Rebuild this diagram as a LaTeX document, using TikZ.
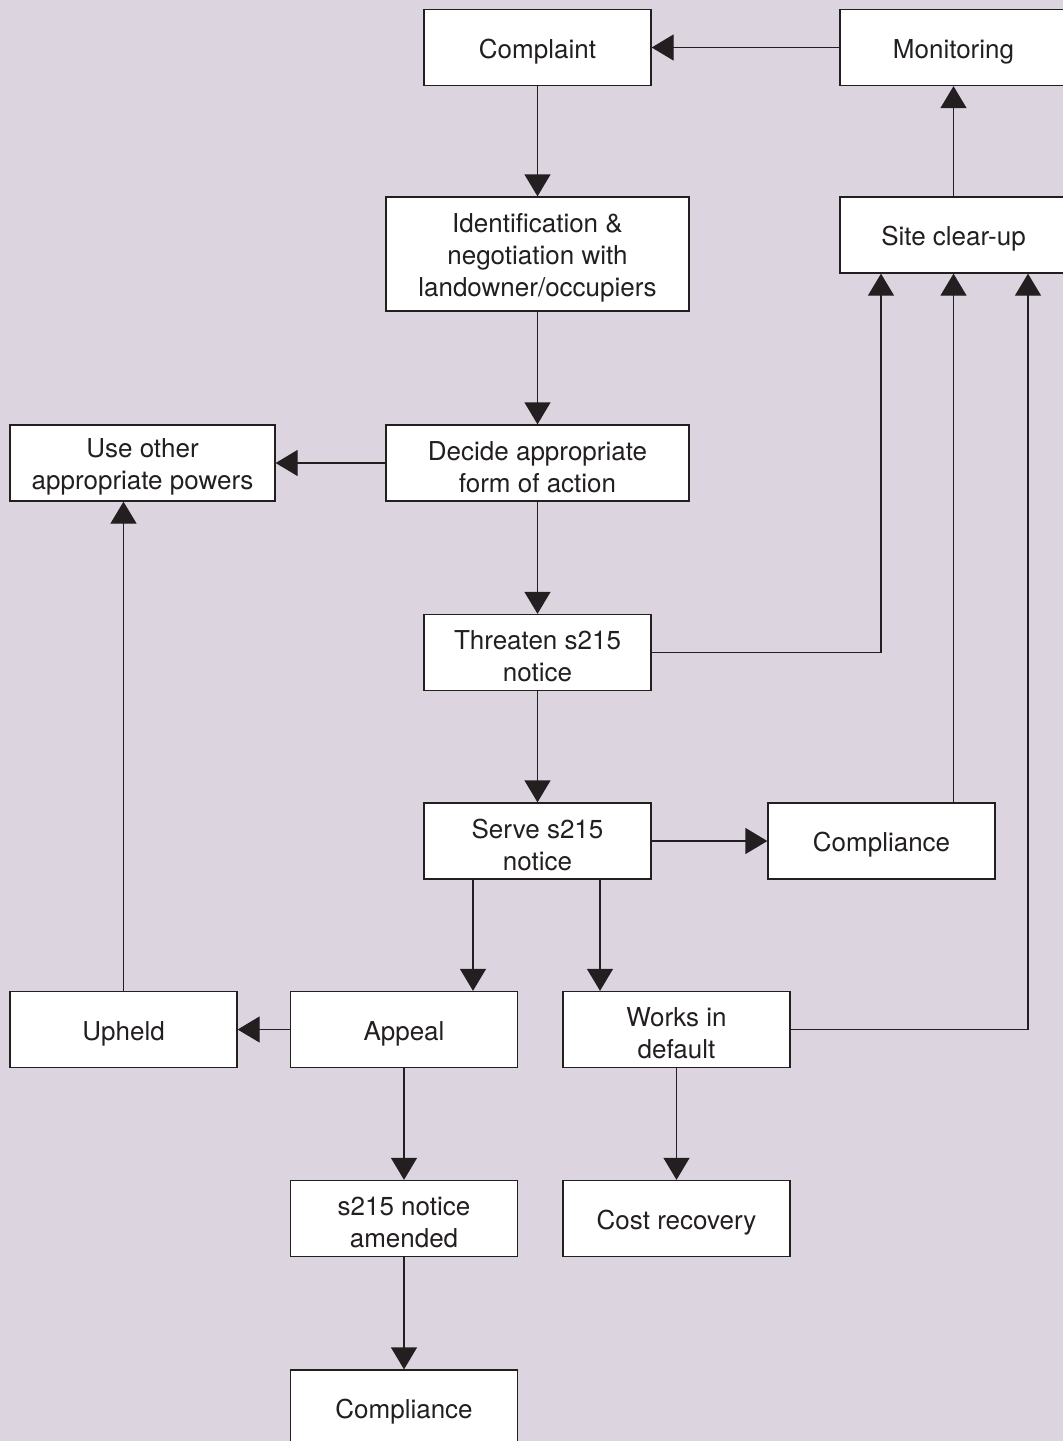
\documentclass[tikz,border=0pt]{standalone}
\usepackage{fontspec}
\setmainfont{TeX Gyre Heros}
\usetikzlibrary{arrows.meta}
\definecolor{bg}{HTML}{DCD5E0}
\definecolor{ink}{HTML}{231F20}
\begin{document}
\begin{tikzpicture}[x=1pt,y=-1pt,
  txt/.style={inner sep=0pt,align=center,text=ink,font=\fontsize{26}{32}\selectfont},
  box/.style={draw=ink,fill=white,line width=1.3pt,minimum width=227pt,minimum height=76pt,
    inner sep=0pt,label={[txt,yshift=-4pt]center:#1}},
  wbox/.style={box=#1,minimum width=303pt},
  arr/.style={draw=ink,line width=1.3pt,-{Triangle[length=22pt,width=26pt]}}]
\clip (0,0) rectangle (1063,1441);
\fill[bg] (0,0) rectangle (1063,1441);
\node[box={Complaint}] (comp) at (537.5,47.5) {};
\node[box={Monitoring}] (mon) at (953.5,47.5) {};
\node[wbox={Identification \&\\negotiation with\\landowner/occupiers},minimum height=114pt] (ident) at (537.5,254) {};
\node[box={Site clear-up}] (site) at (953.5,235) {};
\node[box={Use other\\appropriate powers},minimum width=265pt] (use) at (142.5,463) {};
\node[wbox={Decide appropriate\\form of action}] (decide) at (537.5,463) {};
\node[box={Threaten s215\\notice}] (threat) at (537.5,652.5) {};
\node[box={Serve s215\\notice}] (serve) at (537.5,841) {};
\node[box={Compliance}] (compl1) at (881.5,841) {};
\node[box={Upheld}] (upheld) at (123.5,1029.5) {};
\node[box={Appeal}] (appeal) at (404,1029.5) {};
\node[box={Works in\\default}] (works) at (676.5,1029.5) {};
\node[box={s215 notice\\amended}] (amend) at (404,1218.5) {};
\node[box={Cost recovery}] (cost) at (676.5,1218.5) {};
\node[box={Compliance}] (compl2) at (404,1408) {};
\draw[arr] (mon.west) -- (comp.east);
\draw[arr] (comp) -- (ident);
\draw[arr] (ident) -- (decide);
\draw[arr] (decide) -- (use);
\draw[arr] (decide) -- (threat);
\draw[arr] (threat.east) -| ([xshift=-72.5pt]site.south);
\draw[arr] (threat) -- (serve);
\draw[arr] (serve.east) -- (compl1.west);
\draw[arr] (compl1.north -| site.south) -- (site.south);
\draw[arr] ([xshift=-64.5pt]serve.south) -- ([xshift=-64.5pt]serve.south |- appeal.north);
\draw[arr] ([xshift=62.5pt]serve.south) -- ([xshift=62.5pt]serve.south |- works.north);
\draw[arr] (works.east) -| ([xshift=74.5pt]site.south);
\draw[arr] (appeal.west) -- (upheld.east);
\draw[arr] (upheld.north) -- (upheld.north |- use.south);
\draw[arr] (appeal) -- (amend);
\draw[arr] (works) -- (cost);
\draw[arr] (amend) -- (compl2);
\draw[arr] (site) -- (mon);
\end{tikzpicture}
\end{document}
